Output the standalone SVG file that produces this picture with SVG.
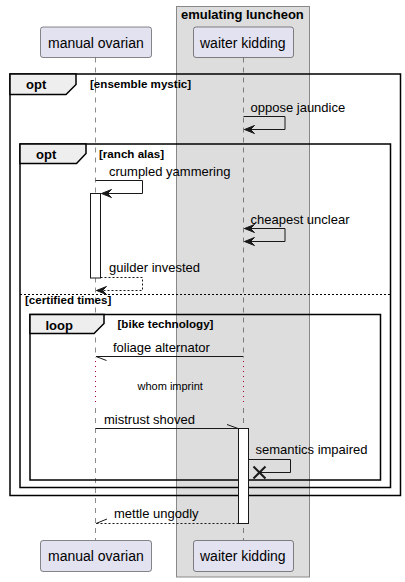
<svg xmlns="http://www.w3.org/2000/svg" width="405" height="582" viewBox="0 0 405 582">
<style>
.part{fill:#E2E2F0;stroke:#181818;stroke-width:0.5}
.ptxt{font-family:"Liberation Sans",Arial,sans-serif;font-size:14px;fill:#000}
.msg{font-family:"Liberation Sans",Arial,sans-serif;font-size:13px;fill:#000}
.note{font-family:"Liberation Sans",Arial,sans-serif;font-size:11px;fill:#000}
.flab{font-family:"Liberation Sans",Arial,sans-serif;font-size:13px;font-weight:bold;fill:#000}
.guard{font-family:"Liberation Sans",Arial,sans-serif;font-size:11.6px;font-weight:bold;fill:#000}
.life{stroke:#181818;stroke-width:0.5;stroke-dasharray:5,5;fill:none}
.delay{stroke:#A80036;stroke-width:1;stroke-dasharray:1,4;fill:none}
.frame{fill:none;stroke:#000;stroke-width:1.5}
.tab{fill:#EEEEEE;stroke:#000;stroke-width:1.5}
.line{stroke:#181818;stroke-width:1;fill:none}
.dash{stroke:#181818;stroke-width:1;fill:none;stroke-dasharray:2,2}
.head{fill:#181818;stroke:#181818;stroke-width:1}
.act{fill:#FFFFFF;stroke:#181818;stroke-width:1}
</style>
<g id="box-emulating-luncheon">
<rect x="176.5" y="6.5" width="133" height="570.5" fill="#DDDDDD" stroke="#888888" stroke-width="1"/>
<text class="flab" x="181" y="18.5">emulating luncheon</text>
</g>
<g id="lifelines">
<line class="life" x1="95.5" y1="57.5" x2="95.5" y2="358"/>
<line class="delay" x1="95.5" y1="361" x2="95.5" y2="406"/>
<line class="life" x1="95.5" y1="408" x2="95.5" y2="540"/>
<line class="life" x1="243.5" y1="57.5" x2="243.5" y2="358"/>
<line class="delay" x1="243.5" y1="361" x2="243.5" y2="406"/>
<line class="life" x1="243.5" y1="408" x2="243.5" y2="540"/>
</g>
<g id="participant-manual-ovarian">
<rect class="part" x="40.5" y="27" width="111" height="30.5" rx="2.5"/>
<text class="ptxt" x="48" y="47.5">manual ovarian</text>
<rect class="part" x="40.5" y="540.5" width="111" height="31" rx="2.5"/>
<text class="ptxt" x="48" y="561">manual ovarian</text>
</g>
<g id="participant-waiter-kidding">
<rect class="part" x="193.5" y="27" width="100" height="30.5" rx="2.5"/>
<text class="ptxt" x="200" y="47.5">waiter kidding</text>
<rect class="part" x="193.5" y="540.5" width="100" height="31" rx="2.5"/>
<text class="ptxt" x="200" y="561">waiter kidding</text>
</g>
<g id="frame-opt-outer">
<rect class="frame" x="10" y="74" width="390.5" height="421.5"/>
<polygon class="tab" points="10,74 76,74 76,84.5 66,94.5 10,94.5"/>
<text class="flab" x="26" y="89">opt</text>
<text class="guard" x="90" y="88">[ensemble mystic]</text>
</g>
<g id="frame-opt-inner">
<rect class="frame" x="20" y="144" width="370.5" height="343.5"/>
<polygon class="tab" points="20,144 86,144 86,153.5 76.5,163.5 20,163.5"/>
<text class="flab" x="36" y="158.5">opt</text>
<text class="guard" x="99" y="157.5">[ranch alas]</text>
<line x1="20" y1="294.5" x2="390.5" y2="294.5" stroke="#000" stroke-width="1" stroke-dasharray="2,2"/>
<text class="guard" x="25" y="304">[certified times]</text>
</g>
<g id="frame-loop">
<rect class="frame" x="30" y="314.5" width="350.5" height="165.5"/>
<polygon class="tab" points="30,314.5 104,314.5 104,323.5 94,333.5 30,333.5"/>
<text class="flab" x="45.5" y="329.5">loop</text>
<text class="guard" x="117.5" y="328">[bike technology]</text>
</g>
<g id="activation-manual">
<rect class="act" x="90.5" y="193.5" width="10" height="84.5"/>
</g>
<g id="activation-waiter">
<rect class="act" x="238.5" y="428.5" width="10" height="95"/>
</g>
<g id="connectors">
<polyline class="line" points="243.5,116.5 285,116.5 285,129.5 244.5,129.5"/>
<polygon class="head" points="254.5,125.5 244.5,129.5 254.5,133.5 250.5,129.5"/>
<text class="msg" x="250.5" y="112">oppose jaundice</text>
<polyline class="line" points="95.5,180.5 142.5,180.5 142.5,193.5 101.5,193.5"/>
<polygon class="head" points="111.5,189.5 101.5,193.5 111.5,197.5 107.5,193.5"/>
<text class="msg" x="109" y="176">crumpled yammering</text>
<polyline class="line" points="244.5,228.5 285,228.5 285,241.5 244.5,241.5"/>
<polygon class="head" points="254.5,224.5 244.5,228.5 254.5,232.5 250.5,228.5"/>
<polygon class="head" points="254.5,237.5 244.5,241.5 254.5,245.5 250.5,241.5"/>
<text class="msg" x="250.5" y="224">cheapest unclear</text>
<polyline class="dash" points="100.5,277.5 142.5,277.5 142.5,290.5 96.5,290.5"/>
<polygon class="head" points="106.5,286.5 96.5,290.5 106.5,294.5 102.5,290.5"/>
<text class="msg" x="109" y="271.5">guilder invested</text>
<line class="line" x1="243.5" y1="356.5" x2="96" y2="356.5"/>
<line class="line" x1="96" y1="356.5" x2="106.5" y2="360.5"/>
<text class="msg" x="113" y="352">foliage alternator</text>
<text class="note" x="137.5" y="390">whom imprint</text>
<line class="line" x1="95.5" y1="428.5" x2="238" y2="428.5"/>
<line class="line" x1="227" y1="424.5" x2="238" y2="428.5"/>
<text class="msg" x="104" y="424">mistrust shoved</text>
<polyline class="line" points="248.5,459.5 290.5,459.5 290.5,472.5 259.5,472.5"/>
<line x1="253.5" y1="466.5" x2="265.5" y2="478.5" stroke="#181818" stroke-width="2"/>
<line x1="253.5" y1="478.5" x2="265.5" y2="466.5" stroke="#181818" stroke-width="2"/>
<text class="msg" x="255.5" y="454">semantics impaired</text>
<line class="dash" x1="238.5" y1="523.5" x2="96" y2="523.5"/>
<line class="line" x1="96" y1="523.5" x2="107" y2="519"/>
<text class="msg" x="114" y="518">mettle ungodly</text>
</g>
</svg>
